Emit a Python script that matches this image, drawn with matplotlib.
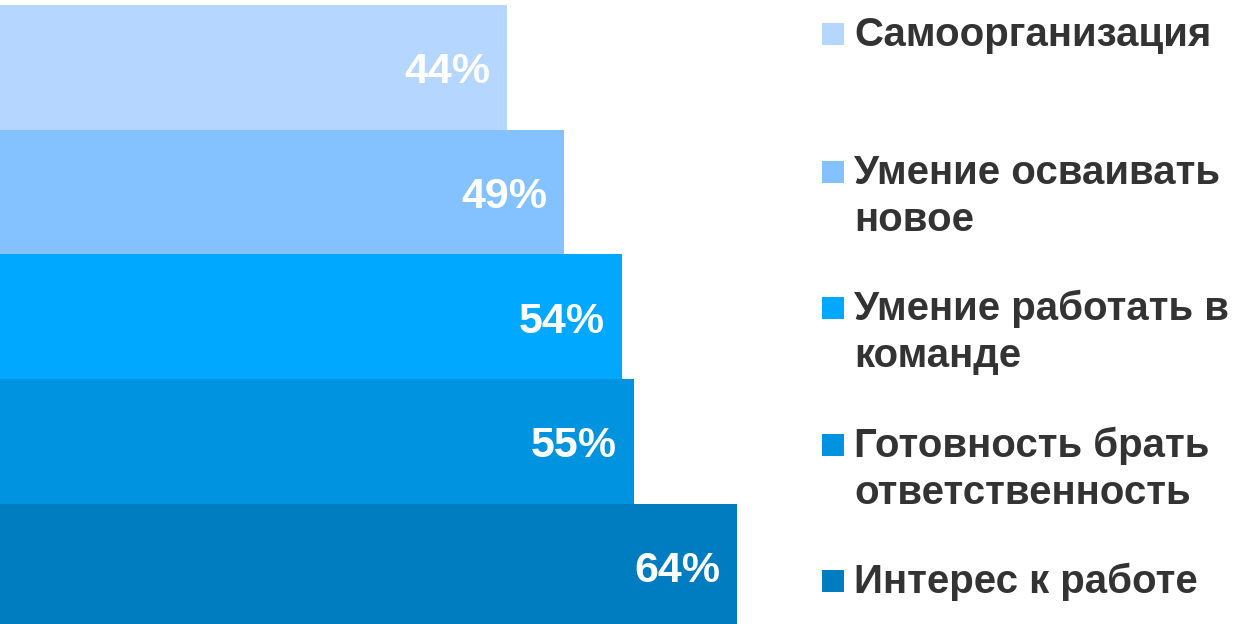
import matplotlib.pyplot as plt
from matplotlib.patches import Rectangle

# values, top bar first
labels = ['Самоорганизация', 'Умение осваивать\nновое', 'Умение работать в\nкоманде',
          'Готовность брать\nответственность', 'Интерес к работе']
values = [44, 49, 54, 55, 64]
colors = ['#B5D6FF', '#84C2FF', '#00A8FF', '#0094E0', '#007DC0']

W, H = 1257, 624
fig = plt.figure(figsize=(W / 100, H / 100), dpi=100)
plt.rcParams['font.family'] = ['Liberation Sans', 'DejaVu Sans']

bar_px = 124.7
top_px = 5
ax_h = bar_px * len(values)
ax = fig.add_axes([0, 1 - (top_px + ax_h) / H, 1, ax_h / H])
ax.set_xlim(0, W / 11.52)
ax.set_ylim(len(values) - 0.5, -0.5)
ax.axis('off')

pos = list(range(len(values)))
ax.barh(pos, values, height=1.0, color=colors, linewidth=0)
for p, v in zip(pos, values):
    ax.annotate(f'{v}%', (v, p), xytext=(-17, -5), textcoords='offset pixels',
                ha='right', va='center', color='white', fontsize=31, fontweight='bold')

# legend drawn by hand, one text per line
baselines = [46, 184, 320, 457, 593]
step = 47
for lab, c, b in zip(labels, colors, baselines):
    fig.patches.append(Rectangle((822 / W, 1 - 45 / H - (b - 46) / H), 22 / W, 22 / H,
                                 transform=fig.transFigure, color=c, linewidth=0))
    for k, line in enumerate(lab.split('\n')):
        fig.text(854 / W, 1 - (b + k * step) / H, line, ha='left', va='baseline',
                 color='#333333', fontsize=29, fontweight='bold')

fig.savefig('out.png', dpi=100)
